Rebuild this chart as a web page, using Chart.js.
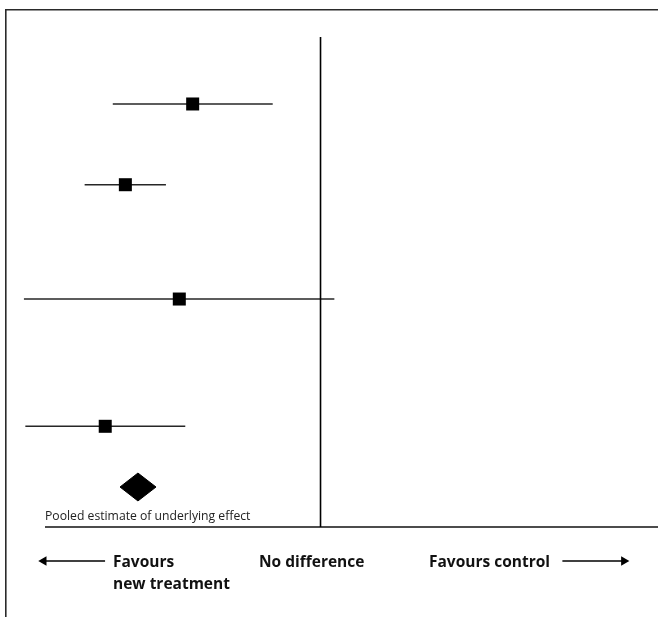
<!DOCTYPE html>
<html>
<head>
<meta charset="utf-8">
<script src="https://cdn.jsdelivr.net/npm/chart.js@4/dist/chart.umd.min.js"></script>
<style>
  html, body { margin: 0; padding: 0; background: #ffffff; }
  #wrap { position: relative; width: 658px; height: 617px; }
  canvas { position: absolute; left: 0; top: 0; }
  .lbl { position: absolute; font-family: "Open Sans", Lato, sans-serif; color: #111; white-space: nowrap; }
  .big { font-size: 15.5px; line-height: 15.5px; font-weight: bold; }
  .small { font-size: 12.2px; line-height: 12.2px; font-weight: normal; color: #222; }
</style>
</head>
<body>
<div id="wrap">
  <canvas id="c" width="658" height="617"></canvas>
  <div class="lbl small" style="left:45px; top:509.5px;">Pooled estimate of underlying effect</div>
  <div class="lbl big" style="left:113px; top:554px;">Favours</div>
  <div class="lbl big" style="left:113px; top:576px;">new treatment</div>
  <div class="lbl big" style="left:259px; top:554px;">No difference</div>
  <div class="lbl big" style="left:429px; top:554px;">Favours control</div>
</div>
<script>
// ---- data (effect scale: 0 = no difference; negative favours new treatment) ----
const studies      = ["Study 1", "Study 2", "Study 3", "Study 4"];
const studyRows    = [9.29, 17.27, 28.57, 41.15];        // vertical row positions (y axis units)
const studyEst     = [-0.813, -1.241, -0.898, -1.369];   // point estimates
const studyLower   = [-1.321, -1.500, -1.886, -1.877];   // lower CI limits
const studyUpper   = [-0.304, -0.983, 0.088, -0.860];    // upper CI limits

const pooledRow    = 47.15;
const pooledEst    = -1.161;
const pooledLower  = -1.275;
const pooledUpper  = -1.046;
const pooledHalfH  = 1.38;   // half height of the diamond in row units

const noDiffValue  = 0;
const noDiffTop    = 2.67;
const axisRow      = 51.10;
const axisStart    = -1.752;
const arrowRow     = 54.46;
const leftArrow    = [-1.370, -1.760];  // from, to (tip end)
const rightArrow   = [1.538, 1.929];    // from, to (tip end)

const xMin = -2, xMax = 2.146;
const yMin = 0,  yMax = 60;

// ---- build datasets ----
const datasets = [];

// squares (on top)
datasets.push({
  label: "Estimates",
  data: studyEst.map((v, i) => ({ x: v, y: studyRows[i] })),
  showLine: false,
  pointStyle: "rect",
  pointRadius: 9.2,
  pointBackgroundColor: "#000",
  pointBorderWidth: 0,
  order: 0
});

// confidence interval lines
studies.forEach((s, i) => {
  datasets.push({
    label: s + " CI",
    data: [{ x: studyLower[i], y: studyRows[i] }, { x: studyUpper[i], y: studyRows[i] }],
    borderColor: "#262626",
    borderWidth: 1.6,
    pointRadius: 0,
    fill: false,
    order: 2
  });
});

// pooled diamond: upper and lower halves, filled between
datasets.push({
  label: "Pooled upper",
  data: [{ x: pooledLower, y: pooledRow }, { x: pooledEst, y: pooledRow - pooledHalfH }, { x: pooledUpper, y: pooledRow }],
  borderColor: "#000", borderWidth: 1, pointRadius: 0, fill: false, tension: 0, order: 3
});
datasets.push({
  label: "Pooled lower",
  data: [{ x: pooledLower, y: pooledRow }, { x: pooledEst, y: pooledRow + pooledHalfH }, { x: pooledUpper, y: pooledRow }],
  borderColor: "#000", borderWidth: 1, pointRadius: 0, fill: "-1", backgroundColor: "#000", tension: 0, order: 3
});

// line of no difference
datasets.push({
  label: "No difference",
  data: [{ x: noDiffValue, y: noDiffTop }, { x: noDiffValue, y: axisRow }],
  borderColor: "#000", borderWidth: 1.6, pointRadius: 0, fill: false, order: 1
});

// horizontal axis line
datasets.push({
  label: "Axis",
  data: [{ x: axisStart, y: axisRow }, { x: xMax, y: axisRow }],
  borderColor: "#111", borderWidth: 1.6, pointRadius: 0, fill: false, order: 1
});

// arrows
datasets.push({
  label: "Left arrow",
  data: [{ x: leftArrow[0], y: arrowRow }, { x: leftArrow[1], y: arrowRow }],
  borderColor: "#000", borderWidth: 1.6,
  pointStyle: "triangle", pointRotation: -90,
  pointRadius: [0, 5.5], pointBackgroundColor: "#000", pointBorderWidth: 0,
  fill: false, order: 1
});
datasets.push({
  label: "Right arrow",
  data: [{ x: rightArrow[0], y: arrowRow }, { x: rightArrow[1], y: arrowRow }],
  borderColor: "#000", borderWidth: 1.6,
  pointStyle: "triangle", pointRotation: 90,
  pointRadius: [0, 5.5], pointBackgroundColor: "#000", pointBorderWidth: 0,
  fill: false, order: 1
});

const axisCommon = {
  grid: { display: false, drawTicks: false },
  ticks: { display: false },
  border: { display: true, color: "#2a2a2a", width: 1.6 },
  title: { display: false }
};

new Chart(document.getElementById("c"), {
  type: "line",
  data: { datasets },
  options: {
    responsive: false,
    devicePixelRatio: 1,
    animation: false,
    events: [],
    layout: { autoPadding: false, padding: { left: 6, top: 10, right: 0, bottom: 0 } },
    plugins: { legend: { display: false }, tooltip: { enabled: false } },
    scales: {
      x: Object.assign({ type: "linear", position: "top", min: xMin, max: xMax }, axisCommon),
      y: Object.assign({ type: "linear", position: "left", reverse: true, min: yMin, max: yMax }, axisCommon)
    }
  }
});
</script>
</body>
</html>
